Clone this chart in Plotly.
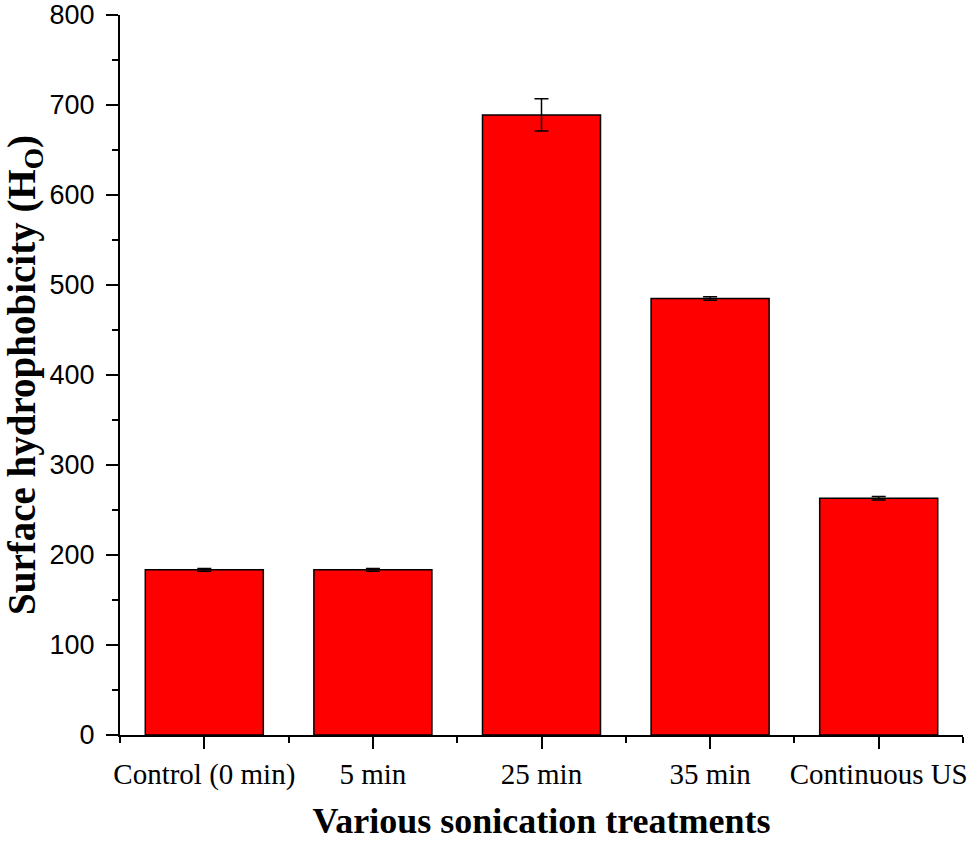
import plotly.graph_objects as go

# dati
treatments = ["Control (0 min)", "5 min", "25 min", "35 min", "Continuous US"]
hydrophobicity = [183.5, 183.5, 689, 485, 263]
errors = [1.5, 1.5, 18, 2, 2]

positions = list(range(len(treatments)))

fig = go.Figure()
fig.add_trace(go.Bar(
    x=positions, y=hydrophobicity, width=0.7,
    marker_color="#FF0000",
    marker_line_color="black", marker_line_width=1.5,
    error_y=dict(type="data", array=errors, color="black", thickness=1.5, width=7),
))

fig.update_layout(
    width=969, height=845,
    margin=dict(l=120, r=6, t=15, b=110, autoexpand=False),
    plot_bgcolor="white", paper_bgcolor="white",
    showlegend=False,
)

fig.update_xaxes(
    range=[-0.5, 4.5], tickvals=positions, ticktext=treatments,
    showline=True, linecolor="black", linewidth=2,
    ticks="outside", ticklen=12, tickwidth=2, tickcolor="black",
    minor=dict(tick0=-0.5, dtick=1, ticks="outside", ticklen=6, tickwidth=2, tickcolor="black"),
    showgrid=False, zeroline=False, automargin=False,
    ticklabeloverflow="allow",
    tickfont=dict(family="Liberation Serif", size=29, color="black"),
    title=dict(text="<b>Various sonication treatments</b>", standoff=18,
               font=dict(family="Liberation Serif", size=36, color="black")),
)

fig.update_yaxes(
    range=[0, 800], dtick=100,
    showline=True, linecolor="black", linewidth=2,
    ticks="outside", ticklen=12, tickwidth=2, tickcolor="black",
    minor=dict(dtick=50, ticks="outside", ticklen=6, tickwidth=2, tickcolor="black"),
    showgrid=False, zeroline=False, automargin=False,
    ticklabelstandoff=6, ticklabeloverflow="allow",
    tickfont=dict(family="Liberation Sans", size=27, color="black"),
    title=dict(text="<b>Surface hydrophobicity (H<sub>O</sub>)</b>", standoff=2,
               font=dict(family="Liberation Serif", size=39, color="black")),
)

# tolgo il margine di default del body così la figura occupa tutta la finestra
fig.write_html("out.html", config={"displayModeBar": False},
               post_script="document.body.style.margin='0';")
